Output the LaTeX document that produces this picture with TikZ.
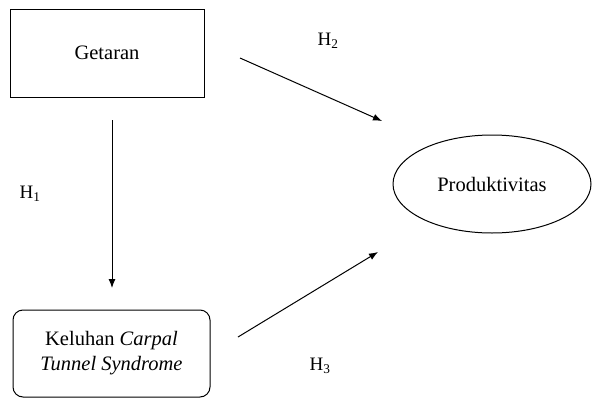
\documentclass[tikz,border=0pt]{standalone}
\usepackage{fontspec}
\setmainfont{Liberation Serif}
\usetikzlibrary{arrows.meta,shapes.geometric}
\begin{document}
\begin{tikzpicture}[x=1pt,y=-1pt,
  every node/.style={font=\fontsize{20.5}{25}\selectfont},
  boxstyle/.style={draw,line width=1pt,inner sep=0pt},
  conn/.style={line width=1pt,-{Latex[length=9pt,width=7pt]}},
  hlabel/.style={font=\fontsize{19}{22}\selectfont}]
\useasboundingbox (0,0) rectangle (592,399);
\node[boxstyle,minimum width=194pt,minimum height=88pt] (g) at (107,53) {Getaran};
\node[boxstyle,rounded corners=10pt,minimum width=197pt,minimum height=87pt,align=center] (k) at (111.5,353.5)
  {Keluhan \textit{Carpal}\\ \textit{Tunnel Syndrome}};
\node[boxstyle,ellipse,minimum width=198pt,minimum height=98pt] (p) at (492,184) {Produktivitas};
\coordinate (a1s) at (112,120);
\coordinate (a1e) at (112,288);
\coordinate (a2s) at (240,58);
\coordinate (a2e) at (382,121);
\coordinate (a3s) at (238,337);
\coordinate (a3e) at (378,252);
\draw[conn] (a1s) -- (a1e);
\draw[conn] (a2s) -- (a2e);
\draw[conn] (a3s) -- (a3e);
\node[hlabel] (h1) at (30,194) {H\textsubscript{1}};
\node[hlabel] (h2) at (328,41) {H\textsubscript{2}};
\node[hlabel] (h3) at (320,366) {H\textsubscript{3}};
\end{tikzpicture}
\end{document}
